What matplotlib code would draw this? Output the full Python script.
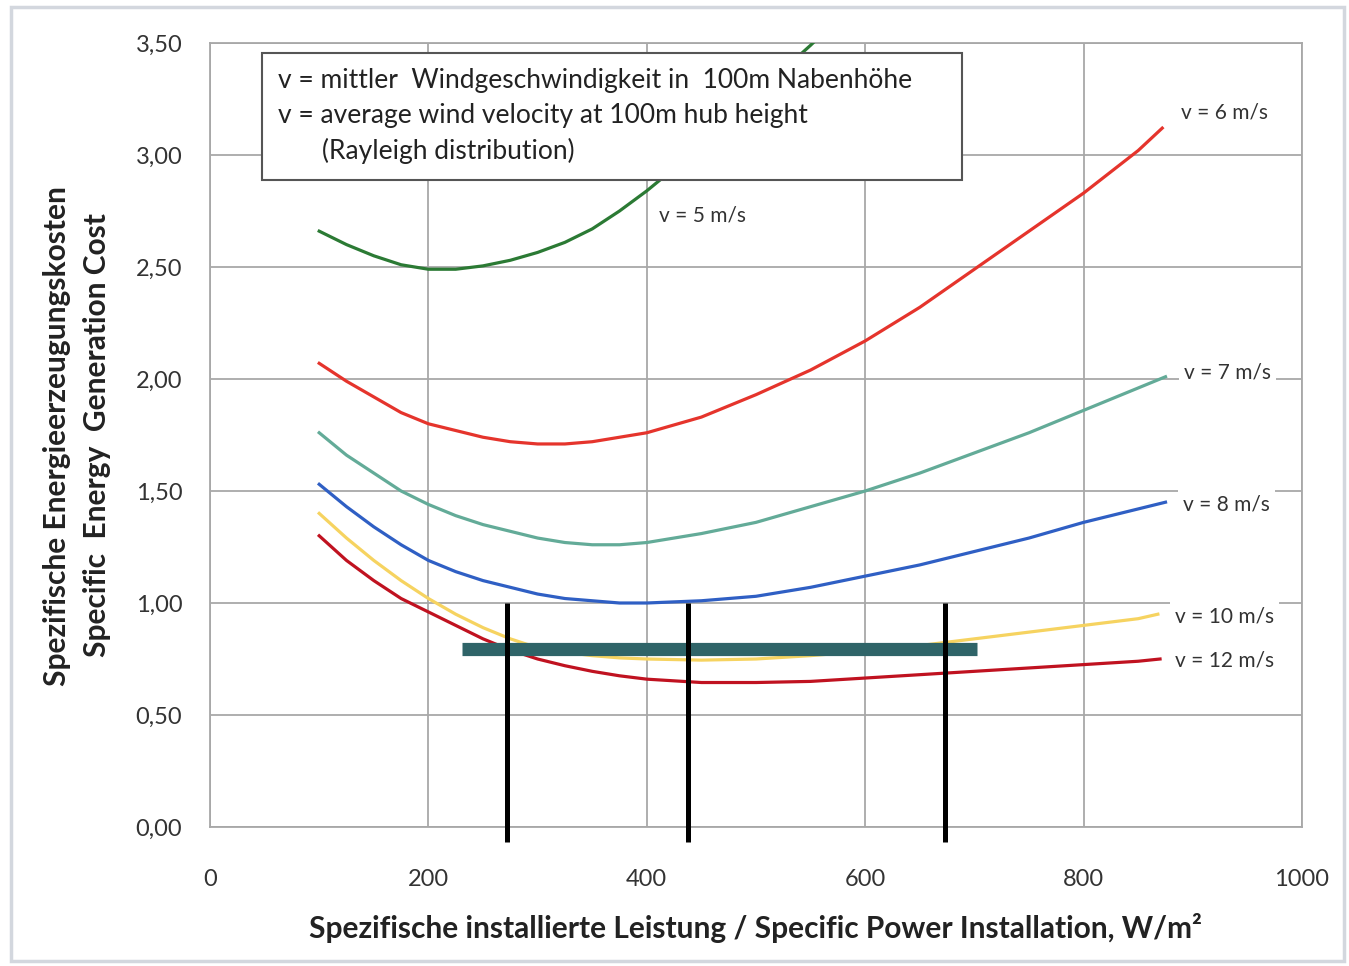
import numpy as np
import matplotlib
matplotlib.use('Agg')
import matplotlib.pyplot as plt
from matplotlib.patches import Rectangle

# curves: specific cost vs specific power (W/m2)
x_v5 = [100, 125, 150, 175, 200, 225, 250, 275, 300, 325, 350, 375, 400, 425, 450, 475, 500, 525, 550, 565]
y_v5 = [2.66, 2.60, 2.55, 2.51, 2.49, 2.49, 2.505, 2.53, 2.565, 2.61, 2.67, 2.75, 2.84, 2.94, 3.05, 3.16, 3.27, 3.38, 3.49, 3.56]

x_v6 = [100, 125, 150, 175, 200, 225, 250, 275, 300, 325, 350, 375, 400, 450, 500, 550, 600, 650, 700, 750, 800, 850, 872]
y_v6 = [2.07, 1.99, 1.92, 1.85, 1.80, 1.77, 1.74, 1.72, 1.71, 1.71, 1.72, 1.74, 1.76, 1.83, 1.93, 2.04, 2.17, 2.32, 2.49, 2.66, 2.83, 3.02, 3.12]

x_v7 = [100, 125, 150, 175, 200, 225, 250, 275, 300, 325, 350, 375, 400, 450, 500, 550, 600, 650, 700, 750, 800, 850, 875]
y_v7 = [1.76, 1.66, 1.58, 1.50, 1.44, 1.39, 1.35, 1.32, 1.29, 1.27, 1.26, 1.26, 1.27, 1.31, 1.36, 1.43, 1.50, 1.58, 1.67, 1.76, 1.86, 1.96, 2.01]

x_v8 = [100, 125, 150, 175, 200, 225, 250, 275, 300, 325, 350, 375, 400, 450, 500, 550, 600, 650, 700, 750, 800, 850, 875]
y_v8 = [1.53, 1.43, 1.34, 1.26, 1.19, 1.14, 1.10, 1.07, 1.04, 1.02, 1.01, 1.00, 1.00, 1.01, 1.03, 1.07, 1.12, 1.17, 1.23, 1.29, 1.36, 1.42, 1.45]

x_v10 = [100, 125, 150, 175, 200, 225, 250, 275, 300, 325, 350, 375, 400, 450, 500, 550, 600, 650, 700, 750, 800, 850, 868]
y_v10 = [1.40, 1.29, 1.19, 1.10, 1.02, 0.95, 0.89, 0.84, 0.80, 0.78, 0.765, 0.755, 0.75, 0.745, 0.75, 0.765, 0.785, 0.81, 0.84, 0.87, 0.90, 0.93, 0.95]

x_v12 = [100, 125, 150, 175, 200, 225, 250, 275, 300, 325, 350, 375, 400, 450, 500, 550, 600, 650, 700, 750, 800, 850, 870]
y_v12 = [1.30, 1.19, 1.10, 1.02, 0.96, 0.90, 0.84, 0.79, 0.75, 0.72, 0.695, 0.675, 0.66, 0.645, 0.645, 0.65, 0.665, 0.68, 0.695, 0.71, 0.725, 0.74, 0.75]

curve_labels = ['v = 5 m/s', 'v = 6 m/s', 'v = 7 m/s', 'v = 8 m/s', 'v = 10 m/s', 'v = 12 m/s']
label_x = [451, 929, 932, 931, 929, 929]
label_y = [2.73, 3.19, 2.03, 1.44, 0.94, 0.745]

# hand drawn overlay on top of the scan
bar_x = [231, 702]
bar_y = 0.795
marker_x = [272, 438, 673]
marker_y = [-0.067, 1.0]

x_ticks = [0, 200, 400, 600, 800, 1000]
y_ticks = [0.0, 0.5, 1.0, 1.5, 2.0, 2.5, 3.0, 3.5]

plt.rcParams['font.family'] = ['Lato', 'DejaVu Sans']

fig = plt.figure(figsize=(13.49, 9.66), dpi=100)
ax = fig.add_axes([210 / 1349, 1 - 827 / 966, 1092 / 1349, 784 / 966])

series = [(x_v5, y_v5, '#2b7a34'), (x_v6, y_v6, '#e5342c'), (x_v7, y_v7, '#63ab98'),
          (x_v8, y_v8, '#2f5fc4'), (x_v10, y_v10, '#f6d360'), (x_v12, y_v12, '#c01220')]
for xs, ys, col in series:
    ax.plot(xs, ys, color=col, lw=2.3, zorder=3)

for txt, lx, ly in zip(curve_labels, label_x, label_y):
    ax.text(lx, ly, txt, ha='center', va='center', fontsize=15, color='#333333', zorder=4,
            bbox=dict(boxstyle='square,pad=0.25', fc='white', ec='none'), clip_on=False)

ax.set_xlim(0, 1000)
ax.set_ylim(0, 3.5)
ax.set_xticks(x_ticks)
ax.set_yticks(y_ticks)
ax.set_yticklabels([f'{v:.2f}'.replace('.', ',') for v in y_ticks])
ax.tick_params(length=0, labelsize=17, labelcolor='#333333')
ax.tick_params(axis='x', pad=30)
ax.tick_params(axis='y', pad=20)
ax.grid(True, color='#a8a8a8', lw=1.3, zorder=1)
for s in ax.spines.values():
    s.set_color('#a8a8a8')
    s.set_linewidth(1.3)

# info box
ax.add_patch(Rectangle((0.048, 0.825), 0.641, 0.162, transform=ax.transAxes,
                       fc='white', ec='#555555', lw=1.5, zorder=5))
box_lines = ['v = mittler  Windgeschwindigkeit in  100m Nabenhöhe',
             'v = average wind velocity at 100m hub height']
ax.text(0.062, 0.952, box_lines[0], transform=ax.transAxes, fontsize=19,
        color='#222222', va='center', zorder=6)
ax.text(0.062, 0.907, box_lines[1], transform=ax.transAxes, fontsize=19,
        color='#222222', va='center', zorder=6)
ax.text(0.103, 0.862, '(Rayleigh distribution)', transform=ax.transAxes, fontsize=19,
        color='#222222', va='center', zorder=6)

# overlay bar and marker lines
ax.plot(bar_x, [bar_y, bar_y], color='#2f6468', lw=9.5, solid_capstyle='butt', zorder=7)
for mx in marker_x:
    ax.plot([mx, mx], marker_y, color='black', lw=3.6, solid_capstyle='butt',
            zorder=8, clip_on=False)

fig.text(755 / 1349, 1 - 928 / 966,
         'Spezifische installierte Leistung / Specific Power Installation, W/m²',
         ha='center', va='center', fontsize=21.5, fontweight='bold', color='#222222')
fig.text(57 / 1349, 1 - 436 / 966, 'Spezifische Energieerzeugungskosten',
         ha='center', va='center', rotation=90, fontsize=21.5, fontweight='bold', color='#222222')
fig.text(97 / 1349, 1 - 435 / 966, 'Specific  Energy  Generation Cost',
         ha='center', va='center', rotation=90, fontsize=21.5, fontweight='bold', color='#222222')

# faint frame of the scanned page
fig.patches.append(Rectangle((0.008, 0.005), 0.988, 0.988, transform=fig.transFigure,
                             fill=False, ec='#d3d7de', lw=2.5))

fig.savefig('out.png', dpi=100)
